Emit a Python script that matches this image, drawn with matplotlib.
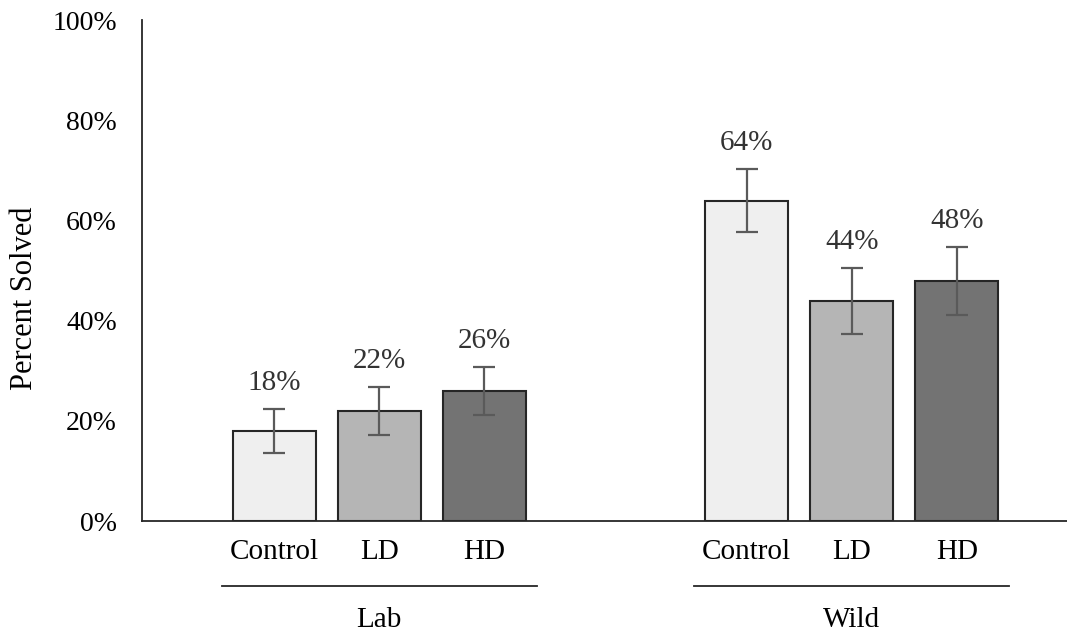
import matplotlib.pyplot as plt
import matplotlib.transforms as mtransforms
import numpy as np

plt.rcParams['font.family'] = ['Liberation Serif', 'DejaVu Serif']

groups = ['Lab', 'Wild']
conditions = ['Control', 'LD', 'HD']
lab_vals = [18, 22, 26]
wild_vals = [64, 44, 48]
lab_err = [4.3, 4.8, 4.8]
wild_err = [6.3, 6.6, 6.8]
colors = ['#efefef', '#b5b5b5', '#737373']
ytick_vals = [0, 20, 40, 60, 80, 100]

fig = plt.figure(figsize=(10.67, 6.34), dpi=100)
ax = fig.add_axes([0.133, 0.178, 0.867, 0.79])

pos_lab = np.arange(3)
pos_wild = np.arange(3) + 4.5
positions = [pos_lab, pos_wild]
values = [lab_vals, wild_vals]
errors = [lab_err, wild_err]

for pos, vals, errs in zip(positions, values, errors):
    ax.bar(pos, vals, width=0.79, color=colors, edgecolor='#262626', linewidth=1.5, zorder=2)
    ax.errorbar(pos, vals, yerr=errs, fmt='none', ecolor='#5a5a5a', elinewidth=1.6,
                capsize=8, capthick=1.6, zorder=3)
    for x, v, e in zip(pos, vals, errs):
        ax.text(x, v + e + 2.6, f'{v}%', ha='center', va='bottom', fontsize=21, color='#333333')

ax.set_xlim(-1.26, 7.55)
ax.set_ylim(0, 100)
ax.set_yticks(ytick_vals)
ax.set_yticklabels([f'{v}%' for v in ytick_vals], fontsize=20)
ax.set_xticks(np.concatenate(positions))
ax.set_xticklabels(conditions * 2, fontsize=21)
ax.tick_params(axis='y', length=0, pad=18)
ax.tick_params(axis='x', length=0, pad=13)
ax.set_ylabel('Percent Solved', fontsize=22)
ax.yaxis.set_label_coords(-0.111, 0.445)

for s in ['top', 'right']:
    ax.spines[s].set_visible(False)
for s in ['left', 'bottom']:
    ax.spines[s].set_color('#262626')
    ax.spines[s].set_linewidth(1.3)

trans = mtransforms.blended_transform_factory(ax.transData, ax.transAxes)
for name, pos in zip(groups, positions):
    ax.plot([pos[0] - 0.5, pos[-1] + 0.5], [-0.13, -0.13], color='#262626', lw=1.3,
            transform=trans, clip_on=False)
    ax.text(pos.mean(), -0.197, name, ha='center', va='center', fontsize=21, transform=trans)

fig.savefig('out.png', dpi=100)
